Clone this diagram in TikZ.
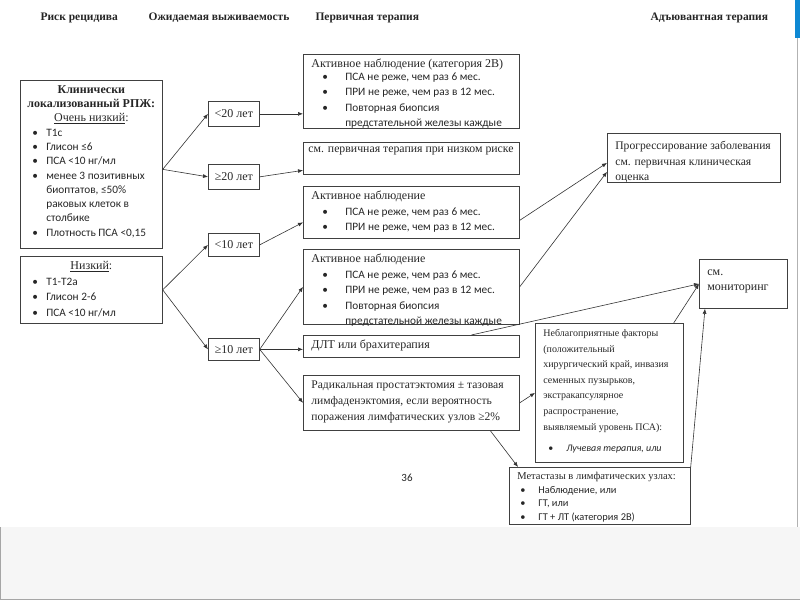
\documentclass[tikz,border=0pt]{standalone}
\usepackage{fontspec}
\setmainfont{Liberation Serif}
\newfontfamily\bodysans{Carlito}
\usetikzlibrary{arrows.meta,calc}

\newcommand{\srf}{\fontsize{12}{15.5}\selectfont}
\newcommand{\sns}{\bodysans\fontsize{11.3}{15.5}\selectfont}
% box text: width, height (px), contents, set from the top
\newcommand{\boxtext}[3]{\parbox[c][\dimexpr#2pt-6pt\relax][t]{\dimexpr#1pt-16pt\relax}{\raggedright\vspace*{2pt}#3}}
% bullet line: bullet offset, bullet width, text
\newcommand{\bitem}[3]{\par\begingroup\let\\\newline\noindent\hangindent=\dimexpr#1+#2\relax\hangafter=1%
  \hspace*{#1}\makebox[#2][l]{\textbullet}#3\par\endgroup}

\tikzset{
  bx/.style={draw=black!75, line width=0.7pt, anchor=north west, inner xsep=8pt, inner ysep=3pt},
  agebox/.style={draw=black!75, line width=0.7pt, anchor=north west, minimum width=51pt,
                 minimum height=25pt, inner sep=0pt, font=\srf},
  hdr/.style={anchor=west, font=\bfseries\fontsize{11.5}{13}\selectfont},
  arr/.style={-{Latex[length=5pt,width=4pt]}, line width=0.6pt, draw=black!80},
}

\begin{document}
\begin{tikzpicture}[x=1pt,y=-1pt,every node/.style={text=black!85}]
\useasboundingbox (0,0) rectangle (800,600);
% slide frame
\fill[gray!7] (0,527) rectangle (800,600);
\draw[gray!70] (0.5,527) -- (0.5,599) -- (800,599);
\fill[cyan!70!blue] (795,0) rectangle (800,38);
\draw[gray!60] (797,38) -- (797,527);

% column headings
\node[hdr] (hrisk) at (37,18) {Риск рецидива};
\node[hdr] (hsurv) at (145,18) {Ожидаемая выживаемость};
\node[hdr] (hprim) at (312,18) {Первичная терапия};
\node[hdr] (hadj) at (647,18) {Адъювантная терапия};

% risk groups
\node[bx, inner xsep=5pt] (vlow) at (20,80) {\boxtext{148}{168}{\fontsize{12}{14.3}\selectfont\centering
  \textbf{Клинически}\\ \textbf{локализованный РПЖ:}\\ \underline{Очень низкий}:\par\raggedright
  \bodysans\fontsize{11.3}{14.3}\selectfont
  \bitem{7pt}{14pt}{T1c}
  \bitem{7pt}{14pt}{Глисон ≤6}
  \bitem{7pt}{14pt}{ПСА <10 нг/мл}
  \bitem{7pt}{14pt}{менее 3 позитивных\\ биоптатов, ≤50\%\\ раковых клеток в\\ столбике}
  \bitem{7pt}{14pt}{Плотность ПСА <0,15}}};
\node[bx, inner xsep=5pt] (low) at (20,256) {\boxtext{148}{67}{\srf\centering\underline{Низкий}:\par\raggedright\sns
  \bitem{7pt}{14pt}{T1-T2a}
  \bitem{7pt}{14pt}{Глисон 2-6}
  \bitem{7pt}{14pt}{ПСА <10 нг/мл}}};

% life expectancy
\node[agebox] (lt20) at (208,101) {<20 лет};
\node[agebox] (ge20) at (208,164) {≥20 лет};
\node[agebox, minimum height=23pt] (lt10) at (208,233) {<10 лет};
\node[agebox, minimum height=22pt] (ge10) at (208,338) {≥10 лет};

% primary therapy
\node[bx] (asA) at (303,54) {\boxtext{216}{74}{\srf Активное наблюдение (категория 2В)\par\vspace{-3pt}\sns
  \bitem{11pt}{23pt}{ПСА не реже, чем раз 6 мес.}
  \bitem{11pt}{23pt}{ПРИ не реже, чем раз в 12 мес.}
  \bitem{11pt}{23pt}{Повторная биопсия\\ предстательной железы каждые}}};
\node[bx, inner xsep=5pt] (lowref) at (303,142) {\boxtext{222}{32}{\fontsize{11.8}{15.5}\selectfont
  см. первичная терапия при низком риске}};
\node[bx] (asC) at (303,186) {\boxtext{216}{52}{\srf Активное наблюдение\par\sns
  \bitem{11pt}{23pt}{ПСА не реже, чем раз 6 мес.}
  \bitem{11pt}{23pt}{ПРИ не реже, чем раз в 12 мес.}}};
\node[bx] (asD) at (303,249) {\boxtext{216}{75}{\srf Активное наблюдение\par\sns
  \bitem{11pt}{23pt}{ПСА не реже, чем раз 6 мес.}
  \bitem{11pt}{23pt}{ПРИ не реже, чем раз в 12 мес.}
  \bitem{11pt}{23pt}{Повторная биопсия\\ предстательной железы каждые}}};
\node[bx] (ebrt) at (303,335) {\boxtext{216}{22}{\srf ДЛТ или брахитерапия}};
\node[bx] (rpe) at (303,375) {\boxtext{216}{55}{\fontsize{11.6}{16}\selectfont\vspace*{1pt}Радикальная простатэктомия ± тазовая\\
  лимфаденэктомия, если вероятность\\ поражения лимфатических узлов ≥2\%}};

% adjuvant therapy
\node[bx] (progr) at (607,133) {\boxtext{173}{49}{\fontsize{11.6}{15.5}\selectfont\vspace*{3pt}Прогрессирование заболевания\\
  см. первичная клиническая\\ оценка}};
\node[bx] (monit) at (699,259) {\boxtext{88}{49}{\srf\vspace*{5pt}см.\\ мониторинг}};
\node[bx] (unfav) at (535,323) {\boxtext{148}{139}{\fontsize{10}{15.6}\selectfont\vspace*{1pt}Неблагоприятные факторы\\
  (положительный\\ хирургический край, инвазия\\ семенных пузырьков,\\ экстракапсулярное\\
  распространение,\\ выявляемый уровень ПСА):\par\vspace{7pt}\bodysans\fontsize{10}{14}\selectfont
  \bitem{5pt}{18pt}{\itshape Лучевая терапия, или}}};
\node[bx] (metas) at (509,467) {\boxtext{181}{57}{\fontsize{10.5}{13.5}\selectfont Метастазы в лимфатических узлах:\par
  \bodysans\fontsize{10.4}{13.5}\selectfont
  \bitem{3pt}{18pt}{Наблюдение, или}
  \bitem{3pt}{18pt}{ГТ, или}
  \bitem{3pt}{18pt}{ГТ + ЛТ (категория 2В)}}};

\node[font=\bodysans\fontsize{11}{13}\selectfont] (pgno) at (407,478) {36};

% connectors
\draw[arr] ([yshift=-5pt]vlow.east) -- (lt20.west);
\draw[arr] ([yshift=-5pt]vlow.east) -- (ge20.west);
\draw[arr] (low.east) -- (lt10.west);
\draw[arr] (low.east) -- (ge10.west);
\draw[arr] (lt20.east) -- (lt20.east -| asA.west);
\draw[arr] (ge20.east) -- ([yshift=-12pt]lowref.west);
\draw[arr] (lt10.east) -- ([yshift=-10pt]asC.west);
\draw[arr] (ge10.east) -- (asD.west);
\draw[arr] (ge10.east) -- (ge10.east -| ebrt.west);
\draw[arr] (ge10.east) -- (rpe.west);
\draw[arr] ([yshift=-8pt]asC.east) -- ([yshift=-5pt]progr.west);
\draw[arr] (asD.east) -- ([yshift=-14pt]progr.west);
\draw[arr] ([xshift=60pt]ebrt.north) -- (monit.west);
\draw[arr] ([xshift=-10pt]unfav.north east) -- (monit.west);
\draw[arr] (metas.north east) -- ([xshift=6pt]monit.south west);
\draw[arr] (rpe.east) -- (unfav.west);
\draw[arr] ([xshift=79pt]rpe.south) -- ([xshift=9pt]metas.north west);
\end{tikzpicture}
\end{document}
